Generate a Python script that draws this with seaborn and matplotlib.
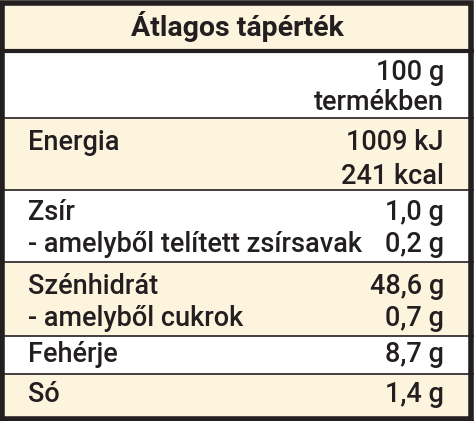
import matplotlib
matplotlib.use("Agg")
import matplotlib.pyplot as plt
import seaborn as sns
from matplotlib import font_manager

sns.set_theme(style="white")
fams = [f.name for f in font_manager.fontManager.ttflist]
font = "Liberation Sans Narrow" if "Liberation Sans Narrow" in fams else "Roboto"
plt.rcParams['font.family'] = [font, 'DejaVu Sans']

title = "Átlagos tápérték"
col_header = ["100 g", "termékben"]
labels = ["Energia", "", "Zsír", "- amelyből telített zsírsavak", "Szénhidrát", "- amelyből cukrok", "Fehérje", "Só"]
values = ["1009 kJ", "241 kcal", "1,0 g", "0,2 g", "48,6 g", "0,7 g", "8,7 g", "1,4 g"]

# layout (pixels)
text_y = [143, 176, 213, 244, 287, 318, 355, 395]
bands = [(0, 50, True), (50, 118, False), (118, 190, True), (190, 262, False),
         (262, 336, True), (336, 374, False), (374, 421, True)]
cream = "#FDF4DE"
dark = "#231F20"

fig = plt.figure(figsize=(4.74, 4.21), dpi=100)
ax = fig.add_axes([0, 0, 1, 1])
ax.set_xlim(0, 474)
ax.set_ylim(421, 0)
ax.axis("off")
for y0, y1, c in bands:
    ax.axhspan(y0, y1, color=cream if c else "white", lw=0)
    ax.axhline(y1, color=dark, lw=1.2)
ax.axhline(51, color=dark, lw=3)
ax.add_patch(plt.Rectangle((2.5, 2.5), 469, 416, fill=False, ec=dark, lw=4))

fs = 19.5
ax.text(237, 27, title, ha="center", va="center", fontsize=20.5, fontweight="bold", color=dark)
ax.text(444, 73, col_header[0], ha="right", va="center", fontsize=fs, fontweight="medium", color=dark)
ax.text(444, 102, col_header[1], ha="right", va="center", fontsize=fs, fontweight="medium", color=dark)
for y, l, v in zip(text_y, labels, values):
    ax.text(28, y, l, ha="left", va="center", fontsize=fs, fontweight="medium", color=dark)
    ax.text(444, y, v, ha="right", va="center", fontsize=fs, fontweight="medium", color=dark)
fig.savefig("out.png", dpi=100)
